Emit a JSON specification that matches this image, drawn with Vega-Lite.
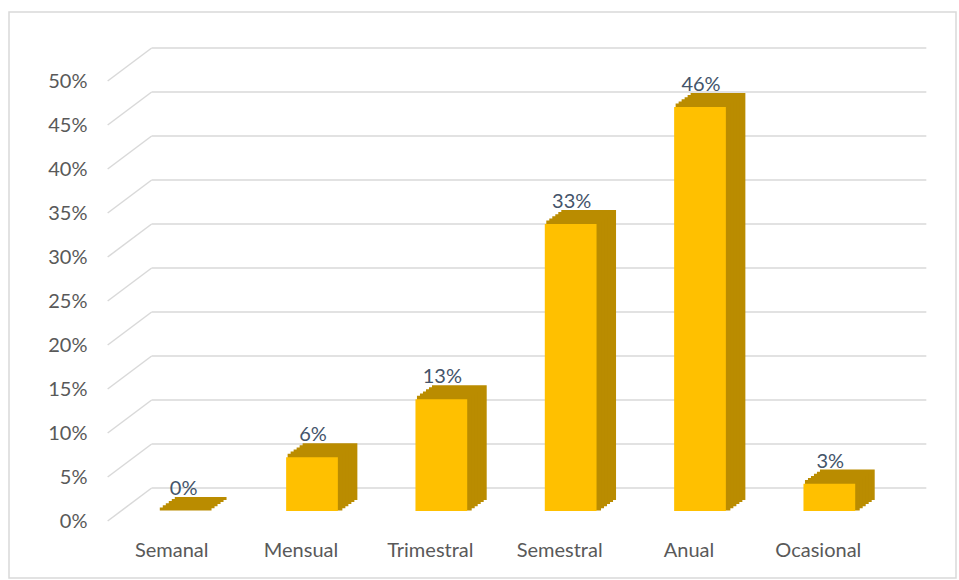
{
  "$schema": "https://vega.github.io/schema/vega-lite/v6.json",
  "width": 947,
  "height": 566,
  "autosize": "none",
  "padding": {"left": 9, "top": 12, "right": 3, "bottom": 2},
  "background": "white",
  "config": {"view": {"stroke": "#d9d9d9", "strokeWidth": 1.5}, "font": "Lato"},
  "datasets": {
    "bars": [
      {"cat": "Semanal", "pct": 0},
      {"cat": "Mensual", "pct": 0.061},
      {"cat": "Trimestral", "pct": 0.127},
      {"cat": "Semestral", "pct": 0.326},
      {"cat": "Anual", "pct": 0.459},
      {"cat": "Ocasional", "pct": 0.031}
    ],
    "ticks": [
      {"pct": 0}, {"pct": 0.05}, {"pct": 0.1}, {"pct": 0.15}, {"pct": 0.2}, {"pct": 0.25},
      {"pct": 0.3}, {"pct": 0.35}, {"pct": 0.4}, {"pct": 0.45}, {"pct": 0.5}
    ]
  },
  "encoding": {
    "y": {
      "field": "pct",
      "type": "quantitative",
      "scale": {"domain": [0, 0.5], "range": [499, 59], "nice": false, "zero": true},
      "axis": {
        "orient": "left",
        "offset": -83,
        "title": null,
        "values": [0, 0.05, 0.1, 0.15, 0.2, 0.25, 0.3, 0.35, 0.4, 0.45, 0.5],
        "format": ".0%",
        "ticks": false,
        "domain": false,
        "grid": false,
        "labelPadding": 5,
        "labelOffset": 10,
        "labelFontSize": 20,
        "labelColor": "#595959"
      }
    }
  },
  "layer": [
    {
      "data": {"name": "ticks"},
      "mark": {"type": "rule", "color": "#d9d9d9", "strokeWidth": 1.5, "xOffset": -31, "x2Offset": 97, "yOffset": -23},
      "encoding": {
        "x": {
          "datum": "Semanal",
          "type": "nominal",
          "scale": {"domain": ["Semanal", "Mensual", "Trimestral", "Semestral", "Anual", "Ocasional"], "range": [109, 885], "paddingInner": 0.6, "paddingOuter": 0.3},
          "axis": {"orient": "bottom", "offset": -48, "title": null, "labelAngle": 0, "ticks": false, "domain": false, "labelPadding": 10, "labelOffset": -11, "labelFontSize": 20, "labelColor": "#595959"}
        },
        "x2": {"datum": "Ocasional"}
      }
    },
    {
      "data": {"name": "ticks"},
      "mark": {"type": "rule", "color": "#d9d9d9", "strokeWidth": 1.5, "xOffset": -75, "x2Offset": -31, "yOffset": 10, "y2Offset": -23},
      "encoding": {
        "x": {"datum": "Semanal", "type": "nominal"},
        "x2": {"datum": "Semanal"},
        "y2": {"field": "pct"}
      }
    },
    {
      "data": {"name": "bars"},
      "encoding": {
        "x": {"field": "cat", "type": "nominal", "sort": null}
      },
      "layer": [
        {"mark": {"type": "bar", "color": "#BA8C00", "stroke": "#BA8C00", "strokeWidth": 3, "xOffset": 18, "yOffset": -12.6, "y2Offset": -12.6}},
        {"mark": {"type": "bar", "color": "#BA8C00", "stroke": "#BA8C00", "strokeWidth": 3, "xOffset": 15, "yOffset": -10.5, "y2Offset": -10.5}},
        {"mark": {"type": "bar", "color": "#BA8C00", "stroke": "#BA8C00", "strokeWidth": 3, "xOffset": 12, "yOffset": -8.4, "y2Offset": -8.4}},
        {"mark": {"type": "bar", "color": "#BA8C00", "stroke": "#BA8C00", "strokeWidth": 3, "xOffset": 9, "yOffset": -6.3, "y2Offset": -6.3}},
        {"mark": {"type": "bar", "color": "#BA8C00", "stroke": "#BA8C00", "strokeWidth": 3, "xOffset": 6, "yOffset": -4.2, "y2Offset": -4.2}},
        {"mark": {"type": "bar", "color": "#BA8C00", "stroke": "#BA8C00", "strokeWidth": 3, "xOffset": 3, "yOffset": -2.1, "y2Offset": -2.1}},
        {"mark": {"type": "bar", "color": "#FFC000"}},
        {
          "mark": {"type": "text", "dy": -16, "dx": 1, "baseline": "alphabetic", "fontSize": 20, "color": "#44546A"},
          "encoding": {"text": {"field": "pct", "type": "quantitative", "format": ".0%"}}
        }
      ]
    }
  ]
}
